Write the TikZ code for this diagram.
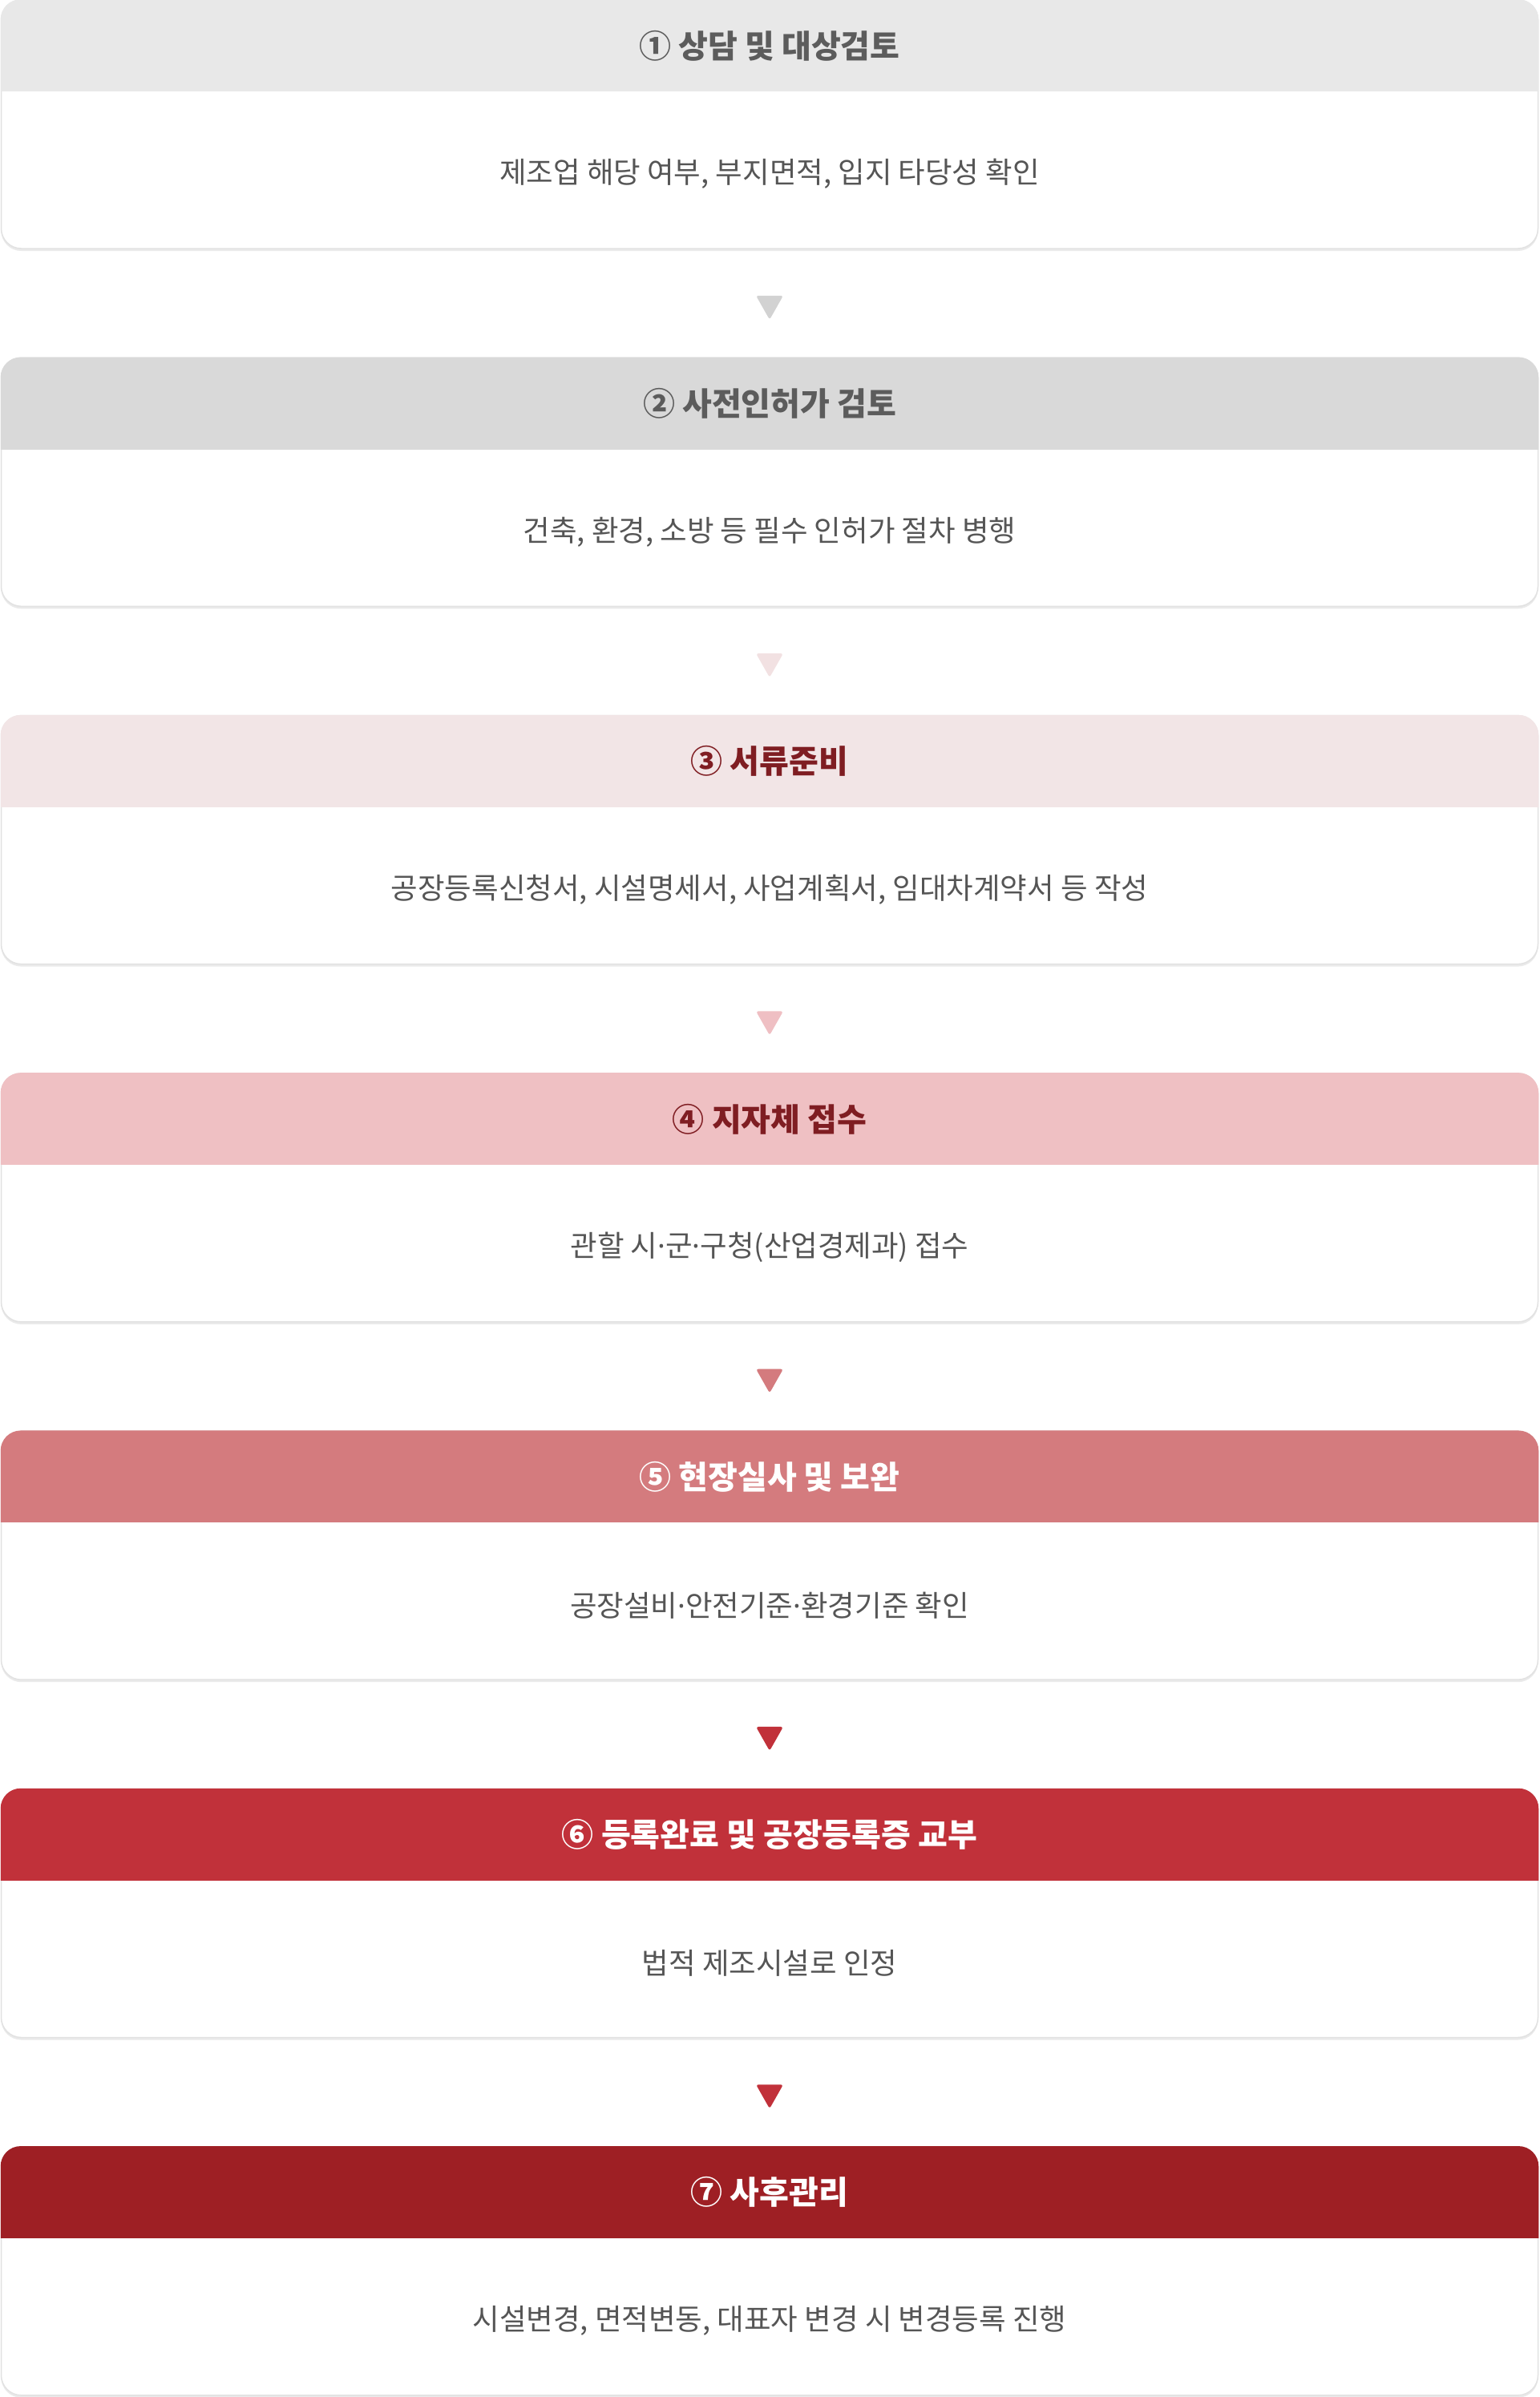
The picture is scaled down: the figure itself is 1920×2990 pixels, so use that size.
\documentclass[tikz,border=0pt]{standalone}
\usepackage{fontspec}
\setmainfont{Noto Sans CJK KR}
\newfontfamily\latinf{Noto Sans}
\usetikzlibrary{calc}
\definecolor{hA}{HTML}{E8E8E8}
\definecolor{hB}{HTML}{D9D9D9}
\definecolor{hC}{HTML}{F2E5E6}
\definecolor{hD}{HTML}{EFC0C3}
\definecolor{hE}{HTML}{D47B7E}
\definecolor{hF}{HTML}{C1313A}
\definecolor{hG}{HTML}{9E1F24}
\definecolor{aA}{HTML}{D2D2D2}
\definecolor{aB}{HTML}{F2E1E2}
\definecolor{aC}{HTML}{EFBFC3}
\definecolor{aD}{HTML}{D47B7E}
\definecolor{aE}{HTML}{C1313A}
\definecolor{aF}{HTML}{C1313A}
\definecolor{tgray}{HTML}{5C5C5C}
\definecolor{tred}{HTML}{7F1D22}
\definecolor{bodytxt}{HTML}{555555}
\definecolor{boxline}{HTML}{E2E2E2}
\definecolor{shadowc}{HTML}{EAEAEA}
\newcommand\md{{\latinf ·}}
\tikzset{
  stagebox/.style={rectangle, rounded corners=25pt, minimum width=1917pt, minimum height=310pt, inner sep=0pt, draw=boxline, line width=1.5pt, fill=white},
  titletxt/.style={font=\fontsize{40pt}{48pt}\selectfont\bfseries, inner sep=0pt, anchor=center},
  bodytext/.style={font=\fontsize{36.5pt}{44pt}\selectfont, text=bodytxt, inner sep=0pt, anchor=center},
  marker/.style={rounded corners=3pt}
}
% #1 name, #2 top y, #3 header colour, #4 title colour, #5 title, #6 body
\newcommand\drawstage[6]{%
  \fill[shadowc, rounded corners=25pt] (1.5,#2-3) rectangle (1918.5,#2-313);
  \node[stagebox] (#1) at (960,#2-155) {};
  \begin{scope}
    \clip[rounded corners=25pt] (#1.north west) rectangle (#1.south east);
    \fill[#3] ($(#1.north west)+(-2,2)$) rectangle ($(#1.north east)+(2,-115)$);
  \end{scope}
  \node[titletxt, text=#4] (#1t) at (960,#2-57) {#5};
  \node[bodytext] (#1b) at (960,#2-217) {#6};
}
\newcommand\drawmarker[3]{%
  \fill[#3, marker] ($(#1.south)+(-17,-58)$) -- ($(#1.south)+(17,-58)$) -- ($(#1.south)+(0,-88)$) -- cycle;
}
\begin{document}
\begin{tikzpicture}[x=1pt,y=1pt]
\useasboundingbox (0,0) rectangle (1920,-2990);
\fill[white] (0,0) rectangle (1920,-2990);
\drawstage{s1}{0}{hA}{tgray}{① 상담 및 대상검토}{제조업 해당 여부, 부지면적, 입지 타당성 확인}
\drawstage{s2}{-446.3}{hB}{tgray}{② 사전인허가 검토}{건축, 환경, 소방 등 필수 인허가 절차 병행}
\drawstage{s3}{-892.6}{hC}{tred}{③ 서류준비}{공장등록신청서, 시설명세서, 사업계획서, 임대차계약서 등 작성}
\drawstage{s4}{-1338.9}{hD}{tred}{④ 지자체 접수}{관할 시\md 군\md 구청(산업경제과) 접수}
\drawstage{s5}{-1785.2}{hE}{white}{⑤ 현장실사 및 보완}{공장설비\md 안전기준\md 환경기준 확인}
\drawstage{s6}{-2231.5}{hF}{white}{⑥ 등록완료 및 공장등록증 교부}{법적 제조시설로 인정}
\drawstage{s7}{-2677.8}{hG}{white}{⑦ 사후관리}{시설변경, 면적변동, 대표자 변경 시 변경등록 진행}
\drawmarker{s1}{s2}{aA}
\drawmarker{s2}{s3}{aB}
\drawmarker{s3}{s4}{aC}
\drawmarker{s4}{s5}{aD}
\drawmarker{s5}{s6}{aE}
\drawmarker{s6}{s7}{aF}
\end{tikzpicture}
\end{document}
